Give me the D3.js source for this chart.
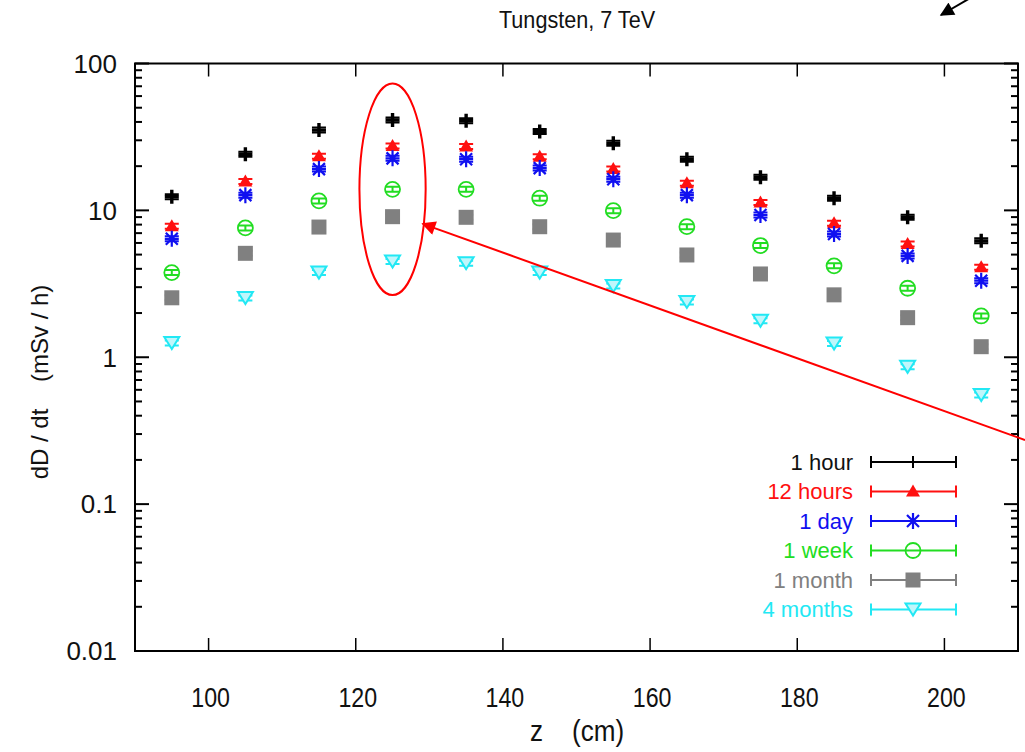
<!DOCTYPE html>
<html>
<head>
<meta charset="utf-8">
<script src="https://cdn.jsdelivr.net/npm/d3@7"></script>
<style>
  body { margin: 0; background: #fff; }
  svg { font-family: "Liberation Sans", Arial, sans-serif; }
</style>
</head>
<body>
<svg width="1025" height="752"></svg>
<script>
// data
const zValues = [95, 105, 115, 125, 135, 145, 155, 165, 175, 185, 195, 205];
const hour1   = [12.4, 24.1, 35.2, 41.2, 40.8, 34.4, 28.6, 22.3, 16.8, 12.1, 8.98, 6.2];
const hours12 = [7.8, 15.7, 23.4, 27.4, 27.2, 23.2, 19.1, 15.3, 11.3, 8.17, 5.9, 4.1];
const day1    = [6.4, 12.7, 19.1, 22.6, 22.3, 19.4, 16.3, 12.7, 9.3, 6.9, 4.9, 3.32];
const week1   = [3.77, 7.6, 11.6, 13.9, 13.9, 12.1, 9.96, 7.75, 5.76, 4.19, 2.95, 1.91];
const month1  = [2.54, 5.1, 7.7, 9.06, 8.97, 7.74, 6.28, 4.97, 3.69, 2.66, 1.86, 1.18];
const months4 = [1.25, 2.53, 3.77, 4.48, 4.37, 3.77, 3.05, 2.38, 1.77, 1.24, 0.86, 0.553];

const seriesNames = ["1 hour", "12 hours", "1 day", "1 week", "1 month", "4 months"];
const seriesValues = [hour1, hours12, day1, week1, month1, months4];
const seriesColors = ["#000000", "#ff1010", "#1010f0", "#22dd22", "#808080", "#22e8f4"];
const seriesMarkers = ["plus", "triUp", "star", "circle", "square", "triDown"];

const xTicks = [100, 120, 140, 160, 180, 200];
const yTicks = [0.01, 0.1, 1, 10, 100];

const svg = d3.select("svg");
const margin = { top: 63.5, right: 7, bottom: 101, left: 135 };
const width = 1025, height = 752;

const x = d3.scaleLinear().domain([90, 210]).range([margin.left, width - margin.right]);
const y = d3.scaleLog().domain([0.01, 100]).range([height - margin.bottom, margin.top]);

const g = svg.append("g");

// 軸刻度 (inside ticks on all four sides)
const minorTicks = [];
[0.01, 0.1, 1, 10].forEach(d => { for (let k = 2; k <= 9; k++) minorTicks.push(d * k); });

const x0 = x.range()[0], x1 = x.range()[1];
const y0 = y.range()[0], y1 = y.range()[1];

g.append("g").selectAll("line").data(xTicks).join("line")
  .attr("x1", d => x(d)).attr("x2", d => x(d)).attr("y1", y0).attr("y2", y0 - 13)
  .attr("stroke", "#000").attr("stroke-width", 1.5);
g.append("g").selectAll("line").data(xTicks).join("line")
  .attr("x1", d => x(d)).attr("x2", d => x(d)).attr("y1", y1).attr("y2", y1 + 13)
  .attr("stroke", "#000").attr("stroke-width", 1.5);

[[x0, 1], [x1, -1]].forEach(([xx, dir]) => {
  g.append("g").selectAll("line").data(yTicks).join("line")
    .attr("x1", xx).attr("x2", xx + dir * 14).attr("y1", d => y(d)).attr("y2", d => y(d))
    .attr("stroke", "#000").attr("stroke-width", 2);
  g.append("g").selectAll("line").data(minorTicks).join("line")
    .attr("x1", xx).attr("x2", xx + dir * 7).attr("y1", d => y(d)).attr("y2", d => y(d))
    .attr("stroke", "#000").attr("stroke-width", 2);
});

g.append("rect")
  .attr("x", x0).attr("y", y1).attr("width", x1 - x0).attr("height", y0 - y1)
  .attr("fill", "none").attr("stroke", "#000").attr("stroke-width", 2);

// tick labels
g.append("g").selectAll("text").data(yTicks).join("text")
  .attr("x", 117).attr("y", d => y(d)).attr("dy", "0.36em")
  .attr("text-anchor", "end").attr("font-size", 26).attr("fill", "#111")
  .text(d => d3.format("~g")(d));

g.append("g").selectAll("text").data(xTicks).join("text")
  .attr("transform", d => `translate(${x(d) + 2},707) scale(0.86,1)`)
  .attr("text-anchor", "middle").attr("font-size", 27).attr("fill", "#111")
  .text(d => d);

// titles
svg.append("text").attr("transform", "translate(577,28) scale(0.9,1)")
  .attr("text-anchor", "middle").attr("font-size", 24).attr("fill", "#111")
  .text("Tungsten, 7 TeV");

svg.append("text").attr("transform", "translate(577,741) scale(0.9,1)")
  .attr("text-anchor", "middle").attr("font-size", 29).attr("fill", "#111")
  .attr("xml:space", "preserve")
  .text("z    (cm)");

svg.append("text").attr("transform", "translate(48,382) rotate(-90)")
  .attr("text-anchor", "middle").attr("font-size", 24).attr("fill", "#111")
  .attr("xml:space", "preserve")
  .text("dD / dt    (mSv / h)");

// 標記形狀
function drawMarker(sel, type, color) {
  if (type === "plus") {
    sel.append("path").attr("d", "M-7,0H7M0,-7V7")
      .attr("stroke", color).attr("stroke-width", 3.4).attr("fill", "none");
  } else if (type === "triUp") {
    sel.append("path").attr("d", "M0,-7L7,5H-7Z").attr("fill", color);
  } else if (type === "star") {
    sel.append("path").attr("d", "M-7,0H7M0,-8V8M-6,-6L6,6M-6,6L6,-6")
      .attr("stroke", color).attr("stroke-width", 2.2).attr("fill", "none");
  } else if (type === "circle") {
    sel.append("circle").attr("r", 7.5).attr("fill", "none")
      .attr("stroke", color).attr("stroke-width", 1.8);
  } else if (type === "square") {
    sel.append("rect").attr("x", -7.5).attr("y", -7.5).attr("width", 15).attr("height", 15)
      .attr("fill", color);
  } else if (type === "triDown") {
    sel.append("path").attr("d", "M0,6L-7.5,-6H7.5Z").attr("fill", "#bff6fb")
      .attr("stroke", color).attr("stroke-width", 2);
  }
}

// points with tiny vertical error bars
seriesValues.forEach((vals, i) => {
  const color = seriesColors[i];
  const pts = g.append("g").selectAll("g").data(vals.map((v, j) => ({ z: zValues[j], v })))
    .join("g").attr("transform", d => `translate(${x(d.z)},${y(d.v)})`);
  pts.append("path")
    .attr("d", d => {
      const a = y(d.v * 1.04) - y(d.v), b = y(d.v / 1.04) - y(d.v);
      return `M-7,${a}H7M-7,${b}H7M0,${a}V${b}`;
    })
    .attr("stroke", color).attr("stroke-width", 2).attr("fill", "none");
  pts.each(function() { drawMarker(d3.select(this), seriesMarkers[i], color); });
});

// legend
const legend = svg.append("g");
seriesNames.forEach((name, i) => {
  const ly = 462 + i * 29.5;
  const color = seriesColors[i];
  legend.append("text").attr("x", 853).attr("y", ly).attr("dy", "0.36em")
    .attr("text-anchor", "end").attr("font-size", 22).attr("fill", color === "#000000" ? "#111" : color)
    .text(name);
  legend.append("path").attr("d", `M871,${ly}H956M871,${ly - 6}V${ly + 6}M956,${ly - 6}V${ly + 6}`)
    .attr("stroke", color).attr("stroke-width", 2).attr("fill", "none");
  const m = legend.append("g").attr("transform", `translate(913,${ly})`);
  if (i === 0) m.append("path").attr("d", "M0,-6V6").attr("stroke", color).attr("stroke-width", 2);
  else drawMarker(m, seriesMarkers[i], color);
});

// annotations: red ellipse around z = 125 and arrows
const defs = svg.append("defs");
[["headRed", "#ff0000"], ["headBlack", "#000"]].forEach(([id, c]) => {
  defs.append("marker").attr("id", id).attr("viewBox", "0 0 10 10")
    .attr("refX", 9).attr("refY", 5).attr("markerWidth", 8).attr("markerHeight", 7)
    .attr("markerUnits", "strokeWidth")
    .attr("orient", "auto-start-reverse")
    .append("path").attr("d", "M0,0L10,5L0,10Z").attr("fill", c);
});

const ey0 = y(73), ey1 = y(2.65);
svg.append("ellipse")
  .attr("cx", x(125)).attr("cy", (ey0 + ey1) / 2)
  .attr("rx", x(129.5) - x(125)).attr("ry", (ey1 - ey0) / 2)
  .attr("fill", "none").attr("stroke", "#ff0000").attr("stroke-width", 2);

svg.append("line")
  .attr("x1", 1025).attr("y1", 440).attr("x2", x(129.1)).attr("y2", y(8.1))
  .attr("stroke", "#ff0000").attr("stroke-width", 2).attr("marker-end", "url(#headRed)");

svg.append("line")
  .attr("x1", 972).attr("y1", -3).attr("x2", 941).attr("y2", 15)
  .attr("stroke", "#000").attr("stroke-width", 2).attr("marker-end", "url(#headBlack)");
</script>
</body>
</html>
